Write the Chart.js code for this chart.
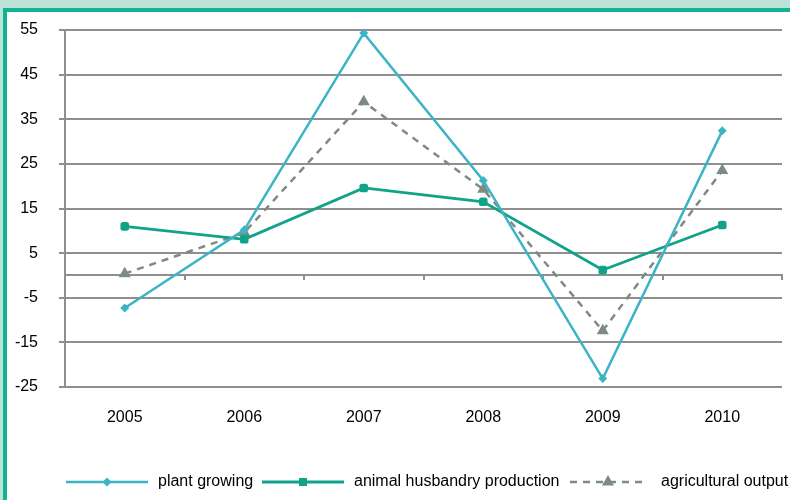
<!DOCTYPE html>
<html><head><meta charset="utf-8">
<script src="https://cdn.jsdelivr.net/npm/chart.js@4"></script>
<style>
html,body{margin:0;padding:0;width:790px;height:500px;overflow:hidden;background:#bde3d9;}
#wrap{position:absolute;left:3px;top:8px;width:783px;height:488px;border-left:4px solid #11b394;border-top:4px solid #11b394;background:#fff;}
canvas{display:block;}
</style></head>
<body><div id="wrap"><canvas id="c" width="783" height="488"></canvas></div>
<script>
const years = ['2005','2006','2007','2008','2009','2010'];
const plantGrowing = [-7.3, 10.2, 54.3, 21.3, -23.1, 32.4];
const animalHusbandry = [11.0, 8.1, 19.6, 16.5, 1.2, 11.3];
const agriculturalOutput = [0.4, 9.6, 38.9, 19.3, -12.4, 23.5];
const yTicks = [-25, -15, -5, 5, 15, 25, 35, 45, 55];

const GRID = '#8f8f8f';
const FONT = {family: '"Liberation Sans", Arial, sans-serif', size: 16};

const legendPlugin = {
  id: 'lineLegend',
  afterDraw(chart) {
    const ctx = chart.ctx;
    const y = 470;
    const items = [
      {ds: 0, x: 59, len: 82, tx: 151},
      {ds: 1, x: 255, len: 82, tx: 347},
      {ds: 2, x: 563, len: 76, tx: 654}
    ];
    ctx.save();
    items.forEach(it => {
      const ds = chart.data.datasets[it.ds];
      ctx.strokeStyle = ds.borderColor;
      ctx.fillStyle = ds.backgroundColor;
      ctx.lineWidth = ds.borderWidth;
      ctx.setLineDash(ds.borderDash || []);
      ctx.beginPath();
      ctx.moveTo(it.x, y); ctx.lineTo(it.x + it.len, y);
      ctx.stroke();
      ctx.setLineDash([]);
      const mx = it.x + it.len / 2;
      const r = ds.pointRadius;
      ctx.beginPath();
      if (ds.pointStyle === 'rectRot') {
        ctx.moveTo(mx, y - r); ctx.lineTo(mx + r, y); ctx.lineTo(mx, y + r); ctx.lineTo(mx - r, y);
      } else if (ds.pointStyle === 'triangle') {
        ctx.moveTo(mx, y - r); ctx.lineTo(mx + r * 0.866, y + r * 0.5); ctx.lineTo(mx - r * 0.866, y + r * 0.5);
      } else {
        ctx.rect(mx - r * 0.8, y - r * 0.8, r * 1.6, r * 1.6);
      }
      ctx.closePath();
      ctx.fill();
      ctx.fillStyle = '#000';
      ctx.font = FONT.size + 'px ' + FONT.family;
      ctx.textBaseline = 'middle';
      ctx.textAlign = 'left';
      ctx.fillText(ds.label, it.tx, y);
    });
    ctx.restore();
  }
};

new Chart(document.getElementById('c'), {
  type: 'line',
  data: {
    labels: years,
    datasets: [
      {label: 'plant growing', data: plantGrowing, borderColor: '#3bb5c6', backgroundColor: '#3bb5c6',
       borderWidth: 2.5, pointStyle: 'rectRot', pointRadius: 4.5, pointBorderWidth: 0, tension: 0, xAxisID: 'x'},
      {label: 'animal husbandry production', data: animalHusbandry, borderColor: '#0fa389', backgroundColor: '#0fa389',
       borderWidth: 2.8, pointStyle: 'rectRounded', pointRadius: 5, pointBorderWidth: 0, tension: 0, xAxisID: 'x'},
      {label: 'agricultural output', data: agriculturalOutput, borderColor: '#7d8b83', backgroundColor: '#7d8b83',
       borderWidth: 2.5, borderDash: [7, 6], pointStyle: 'triangle', pointRadius: 7, pointBorderWidth: 0, tension: 0, xAxisID: 'x'}
    ]
  },
  options: {
    responsive: false,
    animation: false,
    layout: {padding: {left: 0, right: 8, top: 18, bottom: 63}},
    plugins: {legend: {display: false}, tooltip: {enabled: false}},
    scales: {
      x: {
        type: 'category', position: 'bottom', offset: true,
        grid: {display: false, drawTicks: false},
        border: {display: false},
        ticks: {color: '#000', font: FONT, padding: 21, maxRotation: 0},
        afterFit(s) { s.height = 50; }
      },
      x0: {
        type: 'category', labels: years, position: {y: 0}, offset: true,
        grid: {offset: true, drawOnChartArea: false, drawTicks: true, tickLength: 4, color: GRID, lineWidth: 2},
        border: {display: true, color: GRID, width: 2},
        ticks: {display: false},
        afterFit(s) { s.height = 0; s.paddingTop = 0; s.paddingBottom = 0; s.paddingLeft = 0; s.paddingRight = 0; }
      },
      y: {
        min: -25, max: 55,
        afterBuildTicks(s) { s.ticks = yTicks.map(v => ({value: v})); },
        ticks: {color: '#000', font: FONT, padding: 21},
        grid: {color: GRID, lineWidth: 2, tickLength: 6},
        border: {color: GRID, width: 2},
        afterFit(s) { s.width = 58; s.paddingTop = 0; s.paddingBottom = 0; }
      }
    }
  },
  plugins: [legendPlugin]
});
</script>
</body></html>
